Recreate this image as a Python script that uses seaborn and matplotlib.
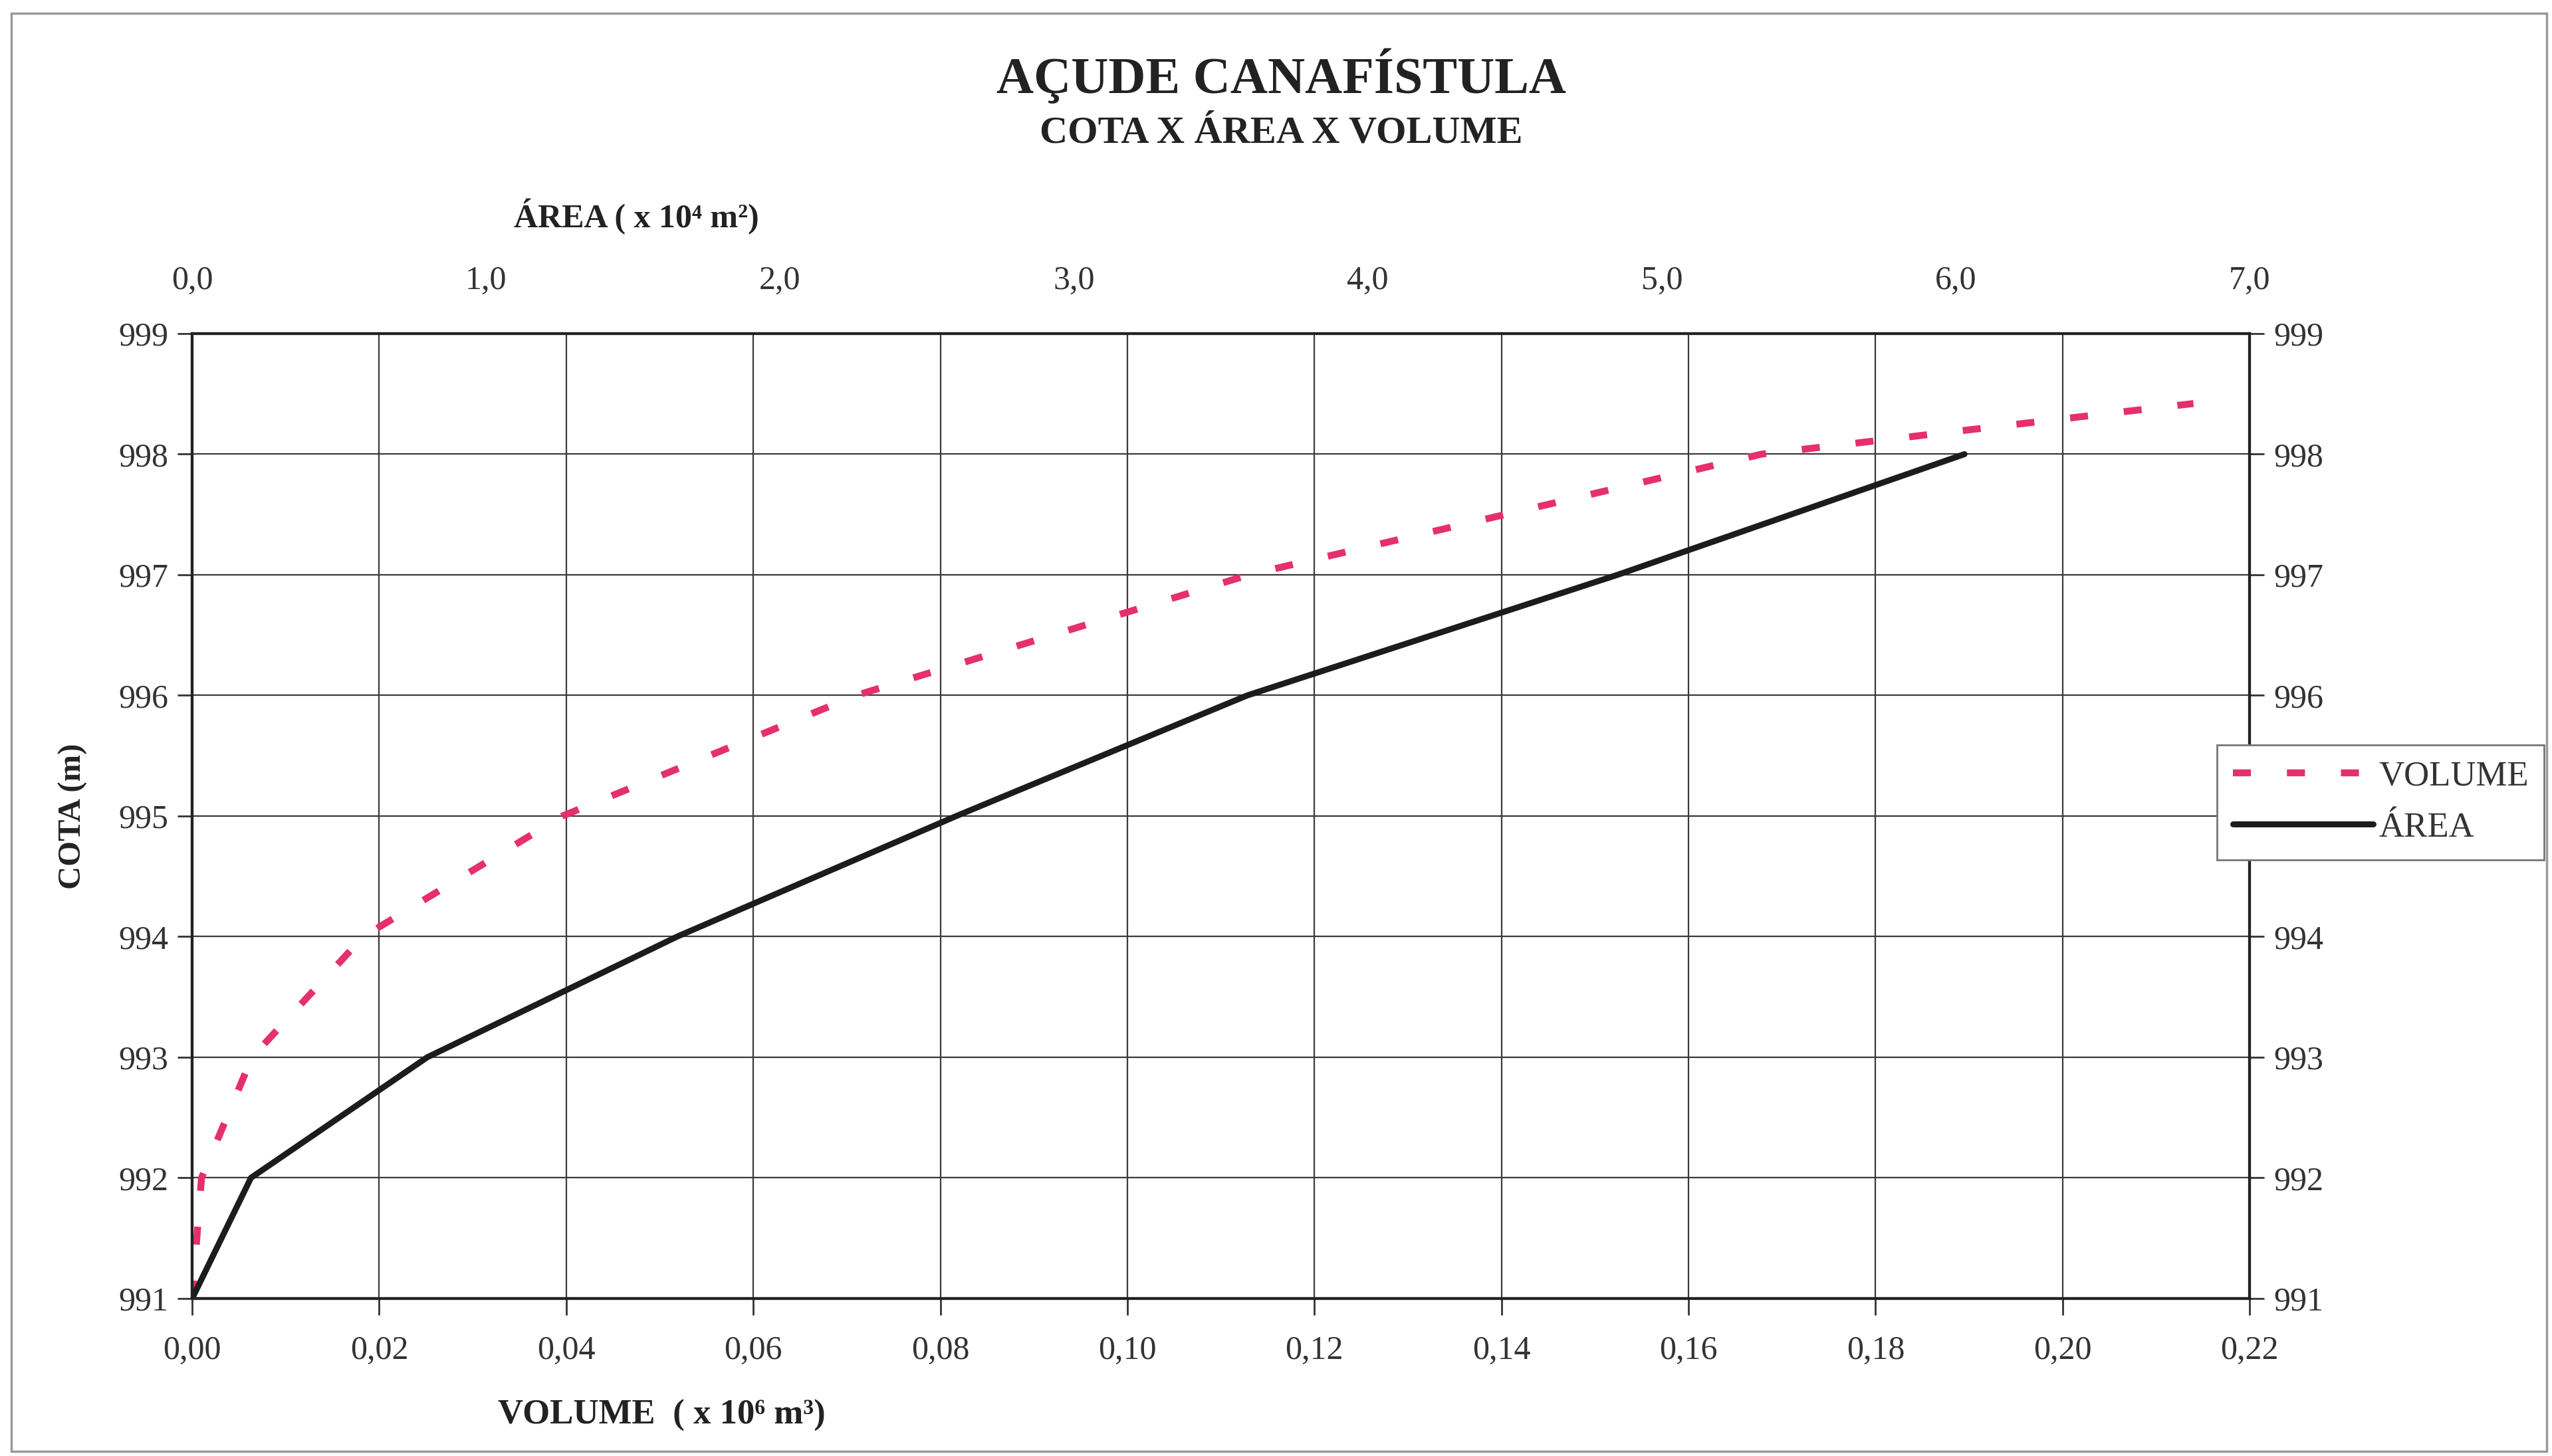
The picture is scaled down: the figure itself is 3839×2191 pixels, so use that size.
import matplotlib
matplotlib.use("Agg")
import matplotlib.pyplot as plt
import seaborn as sns
from matplotlib.patches import Rectangle
from matplotlib.ticker import FuncFormatter

# dados (cota em m, area em 10^4 m2, volume em 10^6 m3)
cota_area = [991, 992, 993, 994, 995, 996, 997, 998]
area = [0.0, 0.20, 0.80, 1.65, 2.60, 3.59, 4.85, 6.03]

cota_volume = [991, 992, 993, 994, 995, 996, 997, 998, 998.42]
volume = [0.0, 0.001, 0.0064, 0.0183, 0.0396, 0.0710, 0.1130, 0.1678, 0.2140]

vol_ticks = [0.00, 0.02, 0.04, 0.06, 0.08, 0.10, 0.12, 0.14, 0.16, 0.18, 0.20, 0.22]
area_ticks = [0.0, 1.0, 2.0, 3.0, 4.0, 5.0, 6.0, 7.0]
cota_ticks = [991, 992, 993, 994, 995, 996, 997, 998, 999]

sns.set_theme(style="white")
serif = ["Liberation Serif", "DejaVu Serif"]
plt.rcParams["font.family"] = serif

fig = plt.figure(figsize=(38.39, 21.91), dpi=100)
ax = fig.add_axes([0.0753, 0.1082, 0.8062, 0.6627])

pink = "#E5306C"
dark = "#1c1c1c"

sns.lineplot(x=volume, y=cota_volume, ax=ax, color=pink, linewidth=7.5,
             linestyle=(0, (2.6, 5.2)), label="VOLUME", legend=False)

ax2 = ax.twiny()
sns.lineplot(x=area, y=cota_area, ax=ax2, color=dark, linewidth=6.5,
             label="ÁREA", legend=False)

ax.set_xlim(0, 0.22)
ax.set_ylim(991, 999)
ax2.set_xlim(0, 7)
ax.set_xticks(vol_ticks)
ax.set_yticks(cota_ticks)
ax2.set_xticks(area_ticks)

ax.xaxis.set_major_formatter(FuncFormatter(lambda v, _: f"{v:.2f}".replace(".", ",")))
ax2.xaxis.set_major_formatter(FuncFormatter(lambda v, _: f"{v:.1f}".replace(".", ",")))
ax.yaxis.set_major_formatter(FuncFormatter(lambda v, _: f"{v:.0f}"))

ax.grid(True, color="#3a3a3a", linewidth=1.6)
ax.set_xlabel("")
ax.set_ylabel("")
ax2.set_xlabel("")

for a in (ax, ax2):
    for s in a.spines.values():
        s.set_color("#222222")
        s.set_linewidth(3.0)

ax.yaxis.set_ticks_position("both")
ax.tick_params(axis="y", which="both", direction="out", length=16, width=2,
               color="#333333", labelsize=36, labelleft=True, labelright=True,
               pad=10, labelcolor="#333333")
ax.tick_params(axis="x", direction="out", length=18, width=2, color="#333333",
               labelsize=36, pad=22, labelcolor="#333333")
ax2.tick_params(axis="x", direction="out", length=0, width=2, color="#333333",
                labelsize=36, pad=40, labelcolor="#333333")

# titulos e rotulos dos eixos
fig.text(0.502, 0.9475, "AÇUDE CANAFÍSTULA", ha="center", va="center",
         fontsize=56, fontweight="bold", family=serif, color="#222222")
fig.text(0.502, 0.9087, "COTA X ÁREA X VOLUME", ha="center", va="center",
         fontsize=42, fontweight="bold", family=serif, color="#222222")
fig.text(0.2493, 0.8512, "ÁREA ( x 10\u2074 m\u00b2)", ha="center", va="center",
         fontsize=36, fontweight="bold", family=serif, color="#222222")
fig.text(0.2592, 0.0278, "VOLUME  ( x 10\u2076 m\u00b3)", ha="center", va="center",
         fontsize=38, fontweight="bold", family=serif, color="#222222")
fig.text(0.0287, 0.4396, "COTA (m)", ha="center", va="center", rotation=90,
         fontsize=35, fontweight="bold", family=serif, color="#222222")

h1, l1 = ax.get_legend_handles_labels()
h2, l2 = ax2.get_legend_handles_labels()
leg = fig.legend(h1 + h2, l1 + l2, loc="center left",
                 bbox_to_anchor=(0.8688, 0.449), fontsize=38,
                 handlelength=4.0, handletextpad=0.15, labelspacing=0.55,
                 borderpad=0.45, borderaxespad=0, fancybox=False,
                 frameon=True, framealpha=1, edgecolor="#777777")
leg.get_frame().set_linewidth(2.0)
for t in leg.get_texts():
    t.set_color("#333333")

# moldura externa do grafico
fig.patches.append(Rectangle((0.0045, 0.003), 0.9935, 0.988, transform=fig.transFigure,
                             fill=False, edgecolor="#9a9a9a", linewidth=2.5))

plt.savefig("out.png", dpi=100, facecolor="white")
plt.close()
